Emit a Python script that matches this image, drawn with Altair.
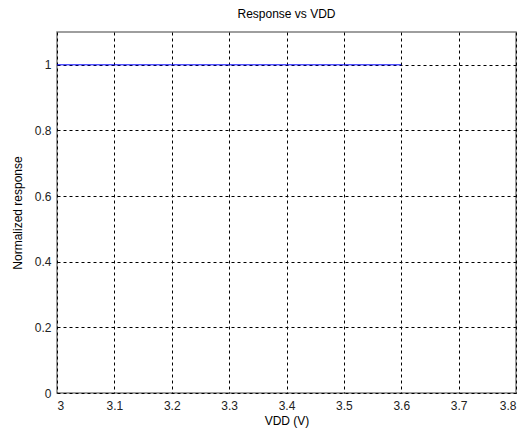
import altair as alt
import pandas as pd

vdd = [3.0, 3.1, 3.2, 3.3, 3.4, 3.5, 3.6]
response = [1.0, 1.0, 1.0, 1.0, 1.0, 1.0, 1.0]
x_ticks = [3.0, 3.1, 3.2, 3.3, 3.4, 3.5, 3.6, 3.7, 3.8]
y_ticks = [0.0, 0.2, 0.4, 0.6, 0.8, 1.0]

df = pd.DataFrame({"vdd": vdd, "resp": response})

FONT = "Liberation Sans"

chart = (
    alt.Chart(df)
    .mark_line(color="#0000ff", strokeWidth=1)
    .encode(
        x=alt.X(
            "vdd:Q",
            scale=alt.Scale(domain=[3.0, 3.8], nice=False, zero=False),
            axis=alt.Axis(
                values=x_ticks, format="~g", title="VDD (V)",
                grid=True, gridColor="#000000", gridDash=[3, 3], gridWidth=1,
                domain=False, ticks=False, labelPadding=7, titlePadding=4,
            ),
        ),
        y=alt.Y(
            "resp:Q",
            scale=alt.Scale(domain=[0, 1.1], nice=False),
            axis=alt.Axis(
                values=y_ticks, format="~g", title="Normalized response",
                grid=True, gridColor="#000000", gridDash=[3, 3], gridWidth=1,
                domain=False, ticks=False, labelPadding=6, titlePadding=10,
            ),
        ),
    )
    .properties(
        width=459,
        height=361,
        title=alt.TitleParams("Response vs VDD", fontSize=12, fontWeight="normal",
                              font=FONT, color="#000000", offset=11),
        autosize=alt.AutoSizeParams(type="none"),
        padding={"left": 49, "top": 24, "right": 3, "bottom": 37},
    )
    .configure_view(stroke="#7f7f7f", strokeWidth=1.5)
    .configure_axis(
        labelFont=FONT, labelFontSize=12, labelColor="#222222",
        titleFont=FONT, titleFontSize=12, titleColor="#000000", titleFontWeight="normal",
    )
)

chart.save("out.html", embed_options={"renderer": "svg", "actions": False})
